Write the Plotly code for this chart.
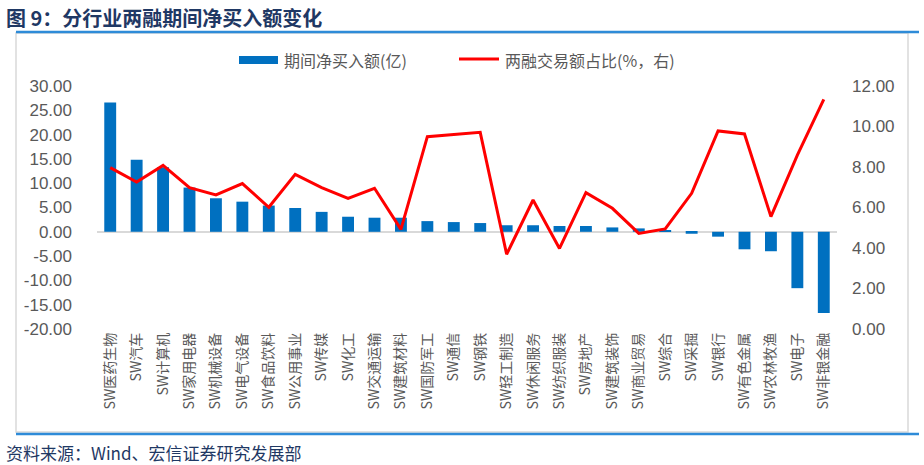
import plotly.graph_objects as go

categories = ["SW医药生物", "SW汽车", "SW计算机", "SW家用电器", "SW机械设备", "SW电气设备",
              "SW食品饮料", "SW公用事业", "SW传媒", "SW化工", "SW交通运输", "SW建筑材料",
              "SW国防军工", "SW通信", "SW钢铁", "SW轻工制造", "SW休闲服务", "SW纺织服装",
              "SW房地产", "SW建筑装饰", "SW商业贸易", "SW综合", "SW采掘", "SW银行",
              "SW有色金属", "SW农林牧渔", "SW电子", "SW非银金融"]
net_buy = [26.6, 14.8, 13.3, 9.1, 6.9, 6.2, 5.4, 4.9, 4.1, 3.1, 2.9, 2.9,
           2.2, 2.0, 1.8, 1.35, 1.35, 1.2, 1.2, 0.9, 0.7, 0.35, -0.4, -1.0,
           -3.6, -4.0, -11.6, -16.7]
share = [7.97, 7.26, 8.08, 6.98, 6.62, 7.18, 6.01, 7.64, 6.98, 6.45, 6.95, 4.92,
         9.50, 9.61, 9.71, 3.69, 6.37, 3.98, 6.73, 5.96, 4.72, 4.94, 6.70, 9.78,
         9.63, 5.55, 8.59, 11.34]
left_ticks = [30, 25, 20, 15, 10, 5, 0, -5, -10, -15, -20]
right_ticks = [12, 10, 8, 6, 4, 2, 0]

W, H = 924, 465
L, R, T, B = 97, 837, 86, 329

gray = "#595959"
navy = "#1F3864"

fig = go.Figure()
fig.add_trace(go.Bar(x=categories, y=net_buy, name="期间净买入额(亿)",
                     marker=dict(color="#0070C0", line=dict(width=0)),
                     showlegend=False))
fig.add_trace(go.Scatter(x=categories, y=share, name="两融交易额占比(%，右)", yaxis="y2",
                         mode="lines", line=dict(color="#FF0000", width=3),
                         showlegend=False))

fig.update_layout(
    width=W, height=H,
    margin=dict(l=L, r=W - R, t=T, b=H - B, autoexpand=False),
    paper_bgcolor="white", plot_bgcolor="white",
    bargap=0.55,
    font=dict(family="Noto Sans CJK SC", color=gray),
    xaxis=dict(tickangle=-90, showgrid=False, showline=False, zeroline=False,
               automargin=False, ticks="",
               tickfont=dict(size=14, color=gray, family="Noto Sans CJK SC")),
    yaxis=dict(range=[-20, 30], tickvals=left_ticks,
               ticktext=[f"{v:.2f}" for v in left_ticks],
               showgrid=False, zeroline=True, zerolinecolor="#D9D9D9",
               zerolinewidth=1.5, showline=False, ticks="", automargin=False,
               tickfont=dict(size=17, color=gray, family="Liberation Sans"),
               ticklabelstandoff=24),
    yaxis2=dict(range=[0, 12], tickvals=right_ticks,
                ticktext=[f"{v:.2f}" for v in right_ticks],
                overlaying="y", side="right", showgrid=False, zeroline=False,
                showline=False, ticks="", automargin=False,
                tickfont=dict(size=17, color=gray, family="Liberation Sans"),
                ticklabelstandoff=14),
)

def px_x(x):
    return (x - L) / (R - L)

def px_y(y):
    return (B - y) / (B - T)

shapes = [
    dict(type="rect", xref="paper", yref="paper",
         x0=px_x(16), x1=px_x(908), y0=px_y(432), y1=px_y(33),
         line=dict(color="#D9D9D9", width=1.5), fillcolor="rgba(0,0,0,0)", layer="below"),
    dict(type="line", xref="paper", yref="paper",
         x0=px_x(16), x1=px_x(919), y0=px_y(32), y1=px_y(32),
         line=dict(color="#2E8BD8", width=2.5)),
    dict(type="line", xref="paper", yref="paper",
         x0=px_x(16), x1=px_x(919), y0=px_y(434), y1=px_y(434),
         line=dict(color="#2E8BD8", width=2.5)),
    dict(type="rect", xref="paper", yref="paper",
         x0=px_x(239), x1=px_x(278), y0=px_y(64), y1=px_y(56),
         line=dict(width=0), fillcolor="#0070C0"),
    dict(type="line", xref="paper", yref="paper",
         x0=px_x(459), x1=px_x(499), y0=px_y(59), y1=px_y(59),
         line=dict(color="#FF0000", width=3)),
]

annotations = [
    dict(text="<b>图 9：分行业两融期间净买入额变化</b>", xref="paper", yref="paper",
         x=px_x(4), y=px_y(17), xanchor="left", yanchor="middle", showarrow=False,
         font=dict(size=20, color=navy, family="Noto Sans CJK SC")),
    dict(text="资料来源：Wind、宏信证券研究发展部", xref="paper", yref="paper",
         x=px_x(4), y=px_y(452), xanchor="left", yanchor="middle", showarrow=False,
         font=dict(size=17, color=navy, family="Noto Sans CJK SC")),
    dict(text="期间净买入额(亿)", xref="paper", yref="paper",
         x=px_x(282), y=px_y(60), xanchor="left", yanchor="middle", showarrow=False,
         font=dict(size=16, color=gray, family="Noto Sans CJK SC")),
    dict(text="两融交易额占比(%，右)", xref="paper", yref="paper",
         x=px_x(503), y=px_y(60), xanchor="left", yanchor="middle", showarrow=False,
         font=dict(size=16, color=gray, family="Noto Sans CJK SC")),
]

fig.update_layout(shapes=shapes, annotations=annotations)
fig.write_html("out.html", config={"displayModeBar": False},
               post_script="document.body.style.margin='0px';")
